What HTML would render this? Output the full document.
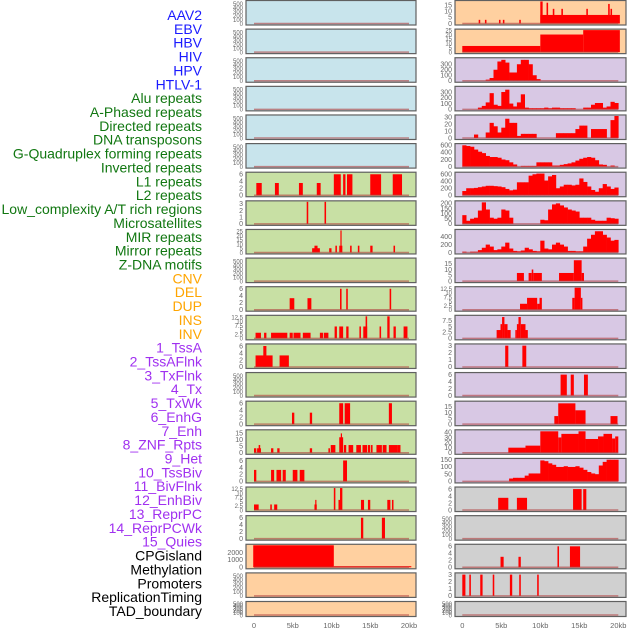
<!DOCTYPE html>
<html><head><meta charset="utf-8"><style>
html,body{margin:0;padding:0;background:#fff;}
svg{display:block;font-family:"Liberation Sans",sans-serif;}
</style></head><body>
<svg id="chart" width="630" height="630" viewBox="0 0 630 630" xmlns="http://www.w3.org/2000/svg"></svg>
<script>
// ---- labels ----
const labels = ["AAV2","EBV","HBV","HIV","HPV","HTLV-1","Alu repeats","A-Phased repeats","Directed repeats","DNA transposons","G-Quadruplex forming repeats","Inverted repeats","L1 repeats","L2 repeats","Low_complexity A/T rich regions","Microsatellites","MIR repeats","Mirror repeats","Z-DNA motifs","CNV","DEL","DUP","INS","INV","1_TssA","2_TssAFlnk","3_TxFlnk","4_Tx","5_TxWk","6_EnhG","7_Enh","8_ZNF_Rpts","9_Het","10_TssBiv","11_BivFlnk","12_EnhBiv","13_ReprPC","14_ReprPCWk","15_Quies","CPGisland","Methylation","Promoters","ReplicationTiming","TAD_boundary"];
const labelGroups = [6,13,5,15,5]; // blue, green, orange, purple, black
const xTickKb = [0,5,10,15,20];
const xTickLabels = ["0","5kb","10kb","15kb","20kb"];

// ---- tick label sets ----
const T500 = [0,100,200,300,400,500];
const T6 = [0,2,4,6];
const T3 = [0,1,2,3];
const T125 = [0,2.5,5,7.5,10,12.5];
const T75 = [0,2.5,5,7.5];
const T15 = [0,5,10,15];

// ---- left panel series: [startKb, endKb, value] ----
const L6 = [[0.3,1.0,3.5],[2.7,3.2,3.5],[5.8,6.3,3.5],[8.1,8.6,3.5],[10.3,11.2,6],[11.5,11.8,6],[12.0,12.7,6],[15.0,16.4,6],[17.9,19.1,6]];
const L7 = [[6.8,7.0,3.3],[9.1,9.3,3.3]];
const L8 = [[7.5,8.5,5],[7.8,8.2,8],[9.7,10,5],[10.5,10.7,8],[11.0,11.4,8],[11.15,11.3,26],[12.4,12.6,8],[13.4,13.6,8],[15.0,15.3,8],[18.0,18.2,8]];
const L10 = [[4.6,5.2,3.3],[6.9,7.4,3.3],[11.1,11.3,6],[11.9,12.1,6],[17.5,17.7,6]];
const L11 = [[0.2,0.9,3.3],[1.3,1.6,3.3],[2.2,4.3,3.3],[4.6,5.0,3.3],[5.1,6.0,3.3],[6.3,7.3,3.3],[8.5,8.9,3.3],[9.0,9.6,3.3],[10.4,10.7,7],[11.0,11.5,7],[11.9,12.2,7],[13.6,13.8,7],[14.1,14.6,7],[14.4,14.6,13],[16.2,16.4,7],[17.2,17.5,13],[18.0,18.3,7],[19.3,19.8,7]];
const L12 = [[0.2,2.4,3.3],[1.2,1.6,6],[3.3,4.5,3.3]];
const L14 = [[4.9,5.2,3.3],[7.2,7.5,3.3],[11.0,11.5,6],[11.7,12.4,6],[17.4,17.8,6]];
const L15 = [[0,0.3,3.5],[0.4,0.9,3.5],[0.6,0.8,6],[2.2,2.5,3.5],[3.0,3.3,3.5],[7.2,7.5,3.5],[9.6,9.8,3.5],[9.9,10.5,6],[11.0,11.5,12],[11.2,11.3,15],[11.6,11.9,6],[12.2,12.8,6],[13.2,13.8,6],[14.0,14.6,6],[14.7,15.0,6],[15.1,15.3,6],[15.8,16.5,6],[16.6,17.1,6],[17.4,18.5,6],[18.5,18.9,6]];
const L16 = [[0,0.3,3.3],[2.2,2.6,3.3],[2.9,3.5,3.3],[3.7,4.1,3.3],[5.0,5.6,3.3],[5.9,6.5,3.3],[11.5,12.0,6]];
const L17 = [[0,0.6,3.3],[2.1,2.3,3.3],[2.6,3.0,3.3],[7.8,8.1,3.3],[7.9,8.0,6],[10.3,10.5,13],[10.9,11.1,6],[11.1,11.4,13],[13.8,14.2,6],[14.7,15.0,6],[17.2,17.6,6],[17.8,18.0,6]];
const L18 = [[13.8,14.1,6],[16.5,16.9,6]];
const L19 = [[-0.1,10.3,3000],[10.3,20.3,150]];

// ---- right panel series ----
const R0 = [[10,20.2,7],[2.1,2.3,3],[2.9,3.1,3],[4.7,4.9,3],[5.2,5.4,3],[7.3,7.5,3],[10,10.3,18],[10.8,11.0,17],[11.6,11.8,12],[12.7,12.9,12],[15.9,16.1,12],[18.7,18.9,16],[19.0,19.2,12]];
const R1 = [[0,10,7],[10,15.5,20],[15.5,20.2,25]];
const R2 = [0,0,0,0,0,0,20,50,200,350,380,330,150,150,300,380,380,300,100,30,0,0,0,0,0,0,0,0,0,0,0,0,0,0,0,0,0,0,0,0];
const R3 = [0,0,0,0,30,60,120,280,80,60,300,340,100,50,120,260,30,20,20,20,20,30,20,30,30,20,20,20,20,0,0,30,30,80,110,110,30,50,130,110];
const R4 = [0,0,0,5,0,0,8,22,17,8,15,28,22,22,3,6,6,6,6,0,0,0,0,0,7,7,7,7,7,13,18,18,0,13,13,13,13,0,26,32];
const R5 = [600,580,560,480,420,380,300,270,270,250,200,180,120,60,0,20,20,20,20,120,120,120,120,30,30,50,70,90,120,170,220,250,270,250,180,60,50,0,30,0];
const R6 = [120,200,200,210,230,250,270,270,260,250,230,180,140,160,370,370,370,560,600,620,620,420,540,580,200,250,300,300,280,300,480,380,250,150,100,200,320,250,180,220];
const R7 = [85,30,50,60,130,210,140,60,50,60,140,130,60,0,0,0,0,0,0,0,40,35,140,190,200,180,160,140,130,120,60,60,60,40,30,30,30,60,55,50];
const R8 = [20,0,20,20,60,120,200,150,60,80,150,250,100,40,30,50,120,80,40,30,300,100,80,200,250,200,150,40,40,30,30,150,350,450,540,540,450,380,300,320];
const R9 = [[7.0,7.9,7],[8.5,8.9,7],[8.9,9.1,10],[9.1,10.2,7],[12.4,14.3,7],[14.3,15.3,18],[15.3,15.6,7]];
const R10 = [[7.4,8.3,3.5],[8.3,9.6,7],[9.6,9.9,3.5],[9.9,10.2,7],[14.1,14.4,7],[14.4,15.2,13],[15.2,15.4,7]];
const R11 = [[4.4,4.9,3.5],[4.9,5.1,6],[5.1,5.4,9],[5.4,5.8,6],[5.8,6.2,3.5],[6.8,7.0,3.5],[7.0,7.2,6],[7.2,7.5,9],[7.5,8.1,6],[8.1,8.4,3.5]];
const R12 = [[5.5,5.9,3],[7.7,8.2,3]];
const R13 = [[12.6,13.4,6],[13.9,14.3,6],[15.6,16.1,6]];
const R14 = [[11.8,12.3,7],[12.3,14.5,18],[14.5,15.8,12],[19.0,19.9,7]];
const R15 = [[5.9,8.1,10],[8.1,10,14],[10,12.3,42],[12.3,12.7,30],[12.7,14.9,37],[14.9,15.8,42],[15.8,17.4,27],[17.4,18.1,32],[18.1,19.2,37],[19.2,19.6,28],[19.6,20,32]];
const R16 = [0,0,0,0,0,0,0,0,0,0,0,0,20,25,25,25,40,55,55,55,145,140,125,115,100,100,105,100,100,105,95,80,65,55,50,110,135,150,150,150];
const R17 = [[4.6,5.9,3.5],[7.0,8.3,3.5],[14.2,15.3,6],[15.5,15.9,6]];
const R19 = [[4.9,5.3,3],[7.2,7.5,3],[12.2,12.4,6],[13.8,15.1,6]];
const R20 = [[0,0.4,3],[0.9,1.1,3],[2.3,2.6,3],[3.9,4.1,3],[6.1,6.4,3],[7.3,7.5,3],[9.6,9.8,3]];

// ---- row configs (series, ymax, ticks, background) ----
const BLUE="#c8e4ec", GREEN="#c8e0a4", PEACH="#ffd0a0", LAV="#d8c8e4", GREY="#d0d0d0";
const leftRows = [
 [null,550,T500,BLUE],[null,550,T500,BLUE],[null,550,T500,BLUE],[null,550,T500,BLUE],[null,550,T500,BLUE],[null,550,T500,BLUE],
 [L6,6.3,T6,GREEN],[L7,3.3,T3,GREEN],[L8,26,[0,5,10,15,20,25],GREEN],[null,550,T500,GREEN],[L10,6.3,T6,GREEN],[L11,13,T125,GREEN],
 [L12,6.3,T6,GREEN],[null,550,T500,GREEN],[L14,6.3,T6,GREEN],[L15,17,T15,GREEN],[L16,6.3,T6,GREEN],[L17,13,T125,GREEN],[L18,6.3,T6,GREEN],
 [L19,3000,[0,1000,2000],PEACH],[null,550,T500,PEACH],[null,550,T500,PEACH]
];
const rightRows = [
 [R0,18,T15,PEACH],[R1,25,[0,5,10,15,20,25],PEACH],
 [R2,400,[0,100,200,300],LAV],[R3,380,[0,100,200,300],LAV],[R4,32,[0,10,20,30],LAV],[R5,620,[0,200,400,600],LAV],[R6,630,[0,200,400,600],LAV],
 [R7,215,[0,50,100,150,200],LAV],[R8,560,[0,200,400],LAV],[R9,19,T15,LAV],[R10,13,T125,LAV],[R11,9.3,T75,LAV],[R12,3.1,T3,LAV],
 [R13,6.3,T6,LAV],[R14,19,T15,LAV],[R15,43,[0,10,20,30,40],LAV],[R16,152,[0,50,100,150],LAV],
 [R17,6.3,T6,GREY],[null,550,T500,GREY],[R19,6.3,T6,GREY],[R20,3.1,T3,GREY],[null,550,T500,GREY]
];

const NS="http://www.w3.org/2000/svg";
const svg=document.getElementById('chart');
function mk(tag,attrs,parent){const e=document.createElementNS(NS,tag);for(const k in attrs)e.setAttribute(k,attrs[k]);(parent||svg).appendChild(e);return e;}

// labels
const labelColors=["#1a1aff","#117711","#ffa500","#a030f0","#000000"];
let idx=0;
labelGroups.forEach((n,g)=>{for(let i=0;i<n;i++){
  const t=mk('text',{x:202,y:(20+idx*13.86).toFixed(1),'text-anchor':'end','font-size':'14',fill:labelColors[g]});
  t.textContent=labels[idx];
  
  
  idx++;}});

const panels=[{x0:246,x1:416,kb0:254,kbPx:7.75,rows:leftRows,name:'left'},{x0:455,x1:626,kb0:462.3,kbPx:7.8,rows:rightRows,name:'right'}];
function rowTop(r){return r===21?601:r*28.62;}
function rowH(r){return r===21?16:25.5;}

panels.forEach(p=>{
  const xs=kb=>p.kb0+kb*p.kbPx;
  p.rows.forEach((row,r)=>{
    const [data,ymax,ticks,bg]=row;
    const top=rowTop(r),h=rowH(r);
    const g=mk('g',{});
    
    
    const box=mk('rect',{x:p.x0,y:top+0.5,width:p.x1-p.x0,height:h-1,fill:bg},g);
    
    
    const y0=top+h-2, yt=top+1.5;
    const ys=v=>y0-(v/ymax)*(y0-yt);
    // bars
    if(data){
      if(typeof data[0]==='number'){
        data.forEach((v,i)=>{ if(v<=0)return;
          const b=mk('rect',{x:xs(i*0.5).toFixed(2),y:ys(v).toFixed(2),width:(0.5*p.kbPx+0.3).toFixed(2),height:(y0-ys(v)).toFixed(2),fill:'#ff0000'},g);
          
          
        });
      } else {
        data.forEach(s=>{
          const b=mk('rect',{x:xs(s[0]).toFixed(2),y:ys(s[2]).toFixed(2),width:Math.max(1.2,(s[1]-s[0])*p.kbPx).toFixed(2),height:(y0-ys(s[2])).toFixed(2),fill:'#ff0000'},g);
          
          
        });
      }
    }
    // baseline
    const bl=mk('line',{x1:xs(0),x2:xs(20),y1:y0,y2:y0,stroke:'#b04040','stroke-width':1.5,'stroke-opacity':0.6},g);
    
    
    // frame
    const fr=mk('rect',{x:p.x0,y:top+0.5,width:p.x1-p.x0,height:h-1,fill:'none',stroke:'#606060','stroke-width':1.2},g);
    
    
    // ticks
    ticks.forEach(t=>{
      const tl=mk('text',{x:p.x0-3,y:(ys(t)+2.3).toFixed(1),'text-anchor':'end','font-size':ticks.length>5?'6':'7',fill:'#666'},g);
      tl.textContent=String(t);
      
      
    });
  });
  xTickKb.forEach((k,i)=>{
    const t=mk('text',{x:xs(k).toFixed(1),y:628,'text-anchor':'middle','font-size':'7.5',fill:'#666'});
    t.textContent=xTickLabels[i];
    
    
  });
});
</script>
</body></html>
